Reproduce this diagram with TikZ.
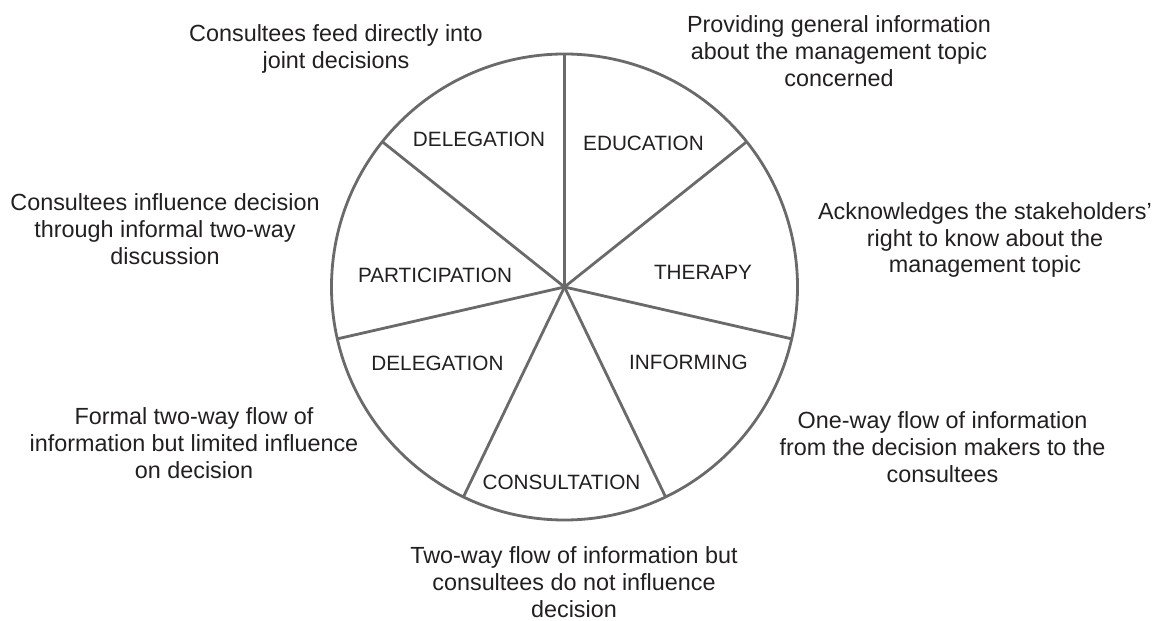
\documentclass[tikz,border=0pt]{standalone}
\usepackage{fontspec}
\setmainfont{Liberation Sans}
\usepackage{xcolor}
\usetikzlibrary{positioning,calc}

\definecolor{wheelgray}{HTML}{6A6A6A}
\definecolor{inkdark}{HTML}{231F20}

\begin{document}
\begin{tikzpicture}[
    x=0.02cm, y=0.02cm,
    rim/.style={draw=wheelgray, line width=1.6pt},
    spoke/.style={draw=wheelgray, line width=1.6pt},
    sector/.style={text=inkdark, font=\fontsize{11.8}{15.2}\selectfont, inner sep=0pt},
    note/.style={text=inkdark, font=\fontsize{13.3}{15.3}\selectfont, align=center, inner sep=0pt}
]
    \useasboundingbox (-564.5,-334) rectangle (603.5,287);

    % Wheel
    \coordinate (hub) at (0,0);
    \draw[rim] (hub) circle (233);

    % Rim points
    \coordinate (r1) at (90:233);
    \coordinate (r2) at (38.57:233);
    \coordinate (r3) at (-12.86:233);
    \coordinate (r4) at (-64.29:233);
    \coordinate (r5) at (-115.71:233);
    \coordinate (r6) at (-167.14:233);
    \coordinate (r7) at (141.43:233);

    % Spokes
    \draw[spoke] (hub) -- (r1);
    \draw[spoke] (hub) -- (r2);
    \draw[spoke] (hub) -- (r3);
    \draw[spoke] (hub) -- (r4);
    \draw[spoke] (hub) -- (r5);
    \draw[spoke] (hub) -- (r6);
    \draw[spoke] (hub) -- (r7);

    % Sector names
    \node[sector] (deleg1) at (-85.5,148) {DELEGATION};
    \node[sector] (educ) at (79,144) {EDUCATION};
    \node[sector] (therapy) at (138.5,15) {THERAPY};
    \node[sector] (partic) at (-129.5,12) {PARTICIPATION};
    \node[sector] (deleg2) at (-127,-76) {DELEGATION};
    \node[sector] (inform) at (124,-75) {INFORMING};
    \node[sector] (consult) at (-3,-195) {CONSULTATION};

    % Descriptions
    \node[note] (d-deleg1) at (-228.5,238) {Consultees feed directly into\\joint decisions};
    \node[note] (d-educ) at (274.5,236) {Providing general information\\about the management topic\\concerned};
    \node[note] (d-therapy) at (420.5,47) {Acknowledges the stakeholders'\\right to know about the\\management topic};
    \node[note] (d-partic) at (-399.5,58) {Consultees influence decision\\through informal two-way\\discussion};
    \node[note] (d-deleg2) at (-370.5,-156) {Formal two-way flow of\\information but limited influence\\on decision};
    \node[note] (d-consult) at (9.5,-295) {Two-way flow of information but\\consultees do not influence\\decision};
    \node[note] (d-inform) at (378,-160) {One-way flow of information\\from the decision makers to the\\consultees};

\end{tikzpicture}
\end{document}
